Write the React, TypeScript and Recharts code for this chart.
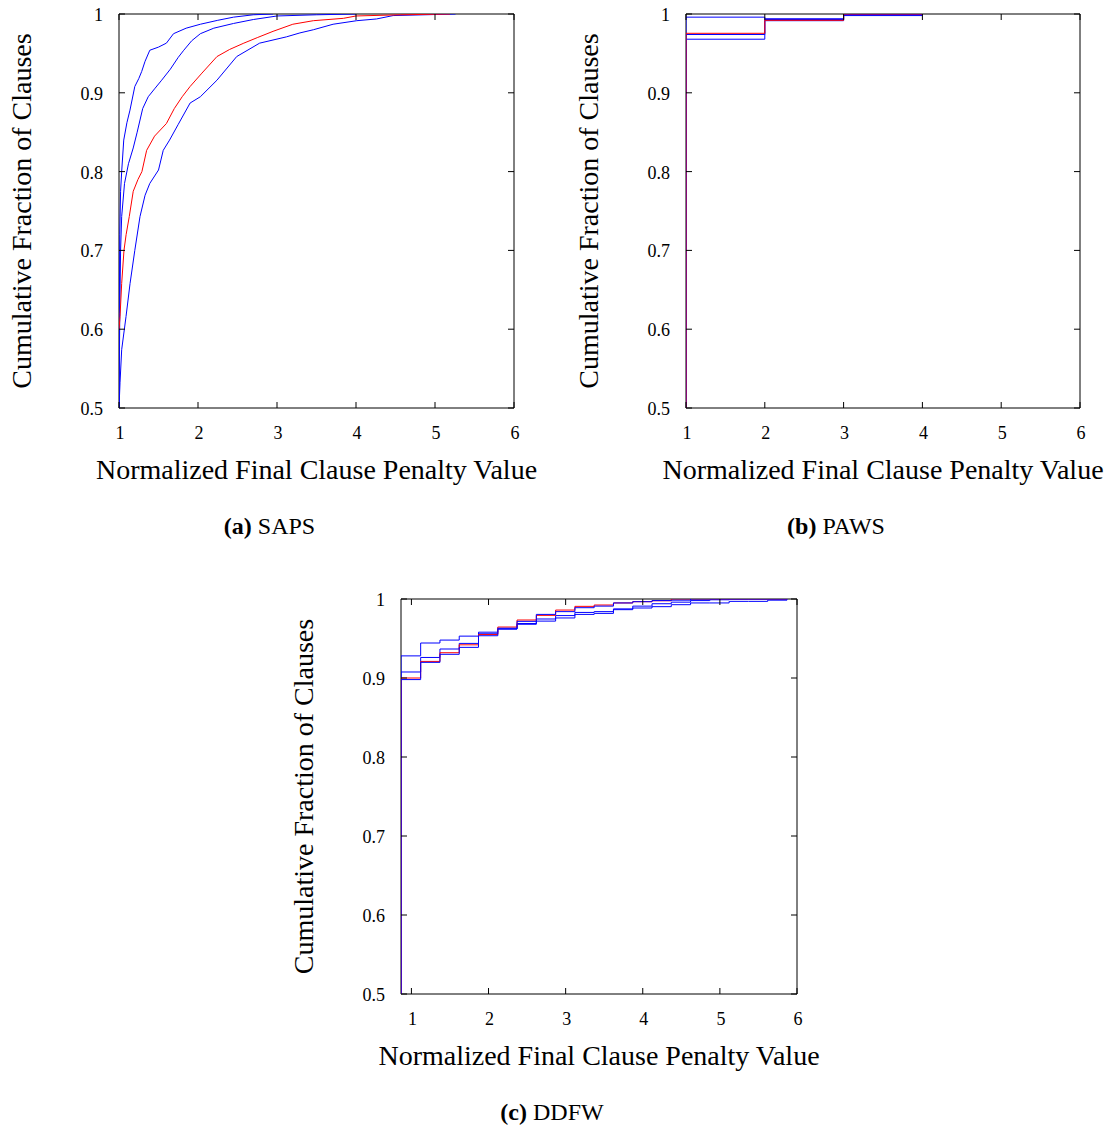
import React from 'react';
import { LineChart, Line, XAxis, YAxis, ReferenceArea } from 'recharts';

const FONT = '"Liberation Serif", "Times New Roman", serif';
const BLUE = '#0000ff';
const RED = '#ff0000';

const xTicks = [1, 2, 3, 4, 5, 6];
const yTicks = [0.5, 0.6, 0.7, 0.8, 0.9, 1];

// (a) SAPS - cumulative curves, [x, y]
const sapsBlue1 = [
  [1, 0.5], [1.004, 0.62], [1.01, 0.72], [1.02, 0.775], [1.034, 0.8], [1.06, 0.84],
  [1.1, 0.862], [1.139, 0.878], [1.2, 0.908], [1.25, 0.918], [1.287, 0.927], [1.33, 0.94],
  [1.39, 0.954], [1.5, 0.958], [1.6, 0.963], [1.69, 0.975], [1.85, 0.982], [2.03, 0.987],
  [2.25, 0.992], [2.45, 0.996], [2.7, 0.999], [2.95, 1],
];
const sapsBlue2 = [
  [1, 0.5], [1.01, 0.62], [1.02, 0.7], [1.034, 0.743], [1.07, 0.785], [1.12, 0.81],
  [1.18, 0.83], [1.23, 0.85], [1.3, 0.88], [1.37, 0.895], [1.45, 0.905], [1.54, 0.916],
  [1.65, 0.93], [1.75, 0.945], [1.82, 0.954], [1.92, 0.966], [2.03, 0.975], [2.2, 0.982],
  [2.45, 0.988], [2.7, 0.993], [3.0, 0.9975], [3.5, 0.999], [4.0, 1],
];
const sapsRed = [
  [1, 0.6], [1.013, 0.616], [1.034, 0.658], [1.063, 0.7], [1.09, 0.72], [1.13, 0.743],
  [1.18, 0.775], [1.24, 0.79], [1.29, 0.8], [1.35, 0.827], [1.45, 0.845], [1.6, 0.861],
  [1.7, 0.88], [1.8, 0.895], [1.9, 0.908], [2.05, 0.925], [2.24, 0.946], [2.4, 0.955],
  [2.58, 0.963], [2.75, 0.97], [2.95, 0.978], [3.2, 0.987], [3.46, 0.9915], [3.84, 0.9945],
  [4.0, 0.9975], [4.56, 0.999], [5.19, 1],
];
const sapsBlue3 = [
  [1, 0.5], [1.013, 0.532], [1.034, 0.574], [1.089, 0.616], [1.14, 0.658], [1.2, 0.7],
  [1.266, 0.743], [1.33, 0.77], [1.39, 0.785], [1.5, 0.802], [1.56, 0.827], [1.64, 0.84],
  [1.75, 0.86], [1.9, 0.887], [2.03, 0.895], [2.24, 0.916], [2.49, 0.946], [2.78, 0.963],
  [3.12, 0.971], [3.29, 0.976], [3.46, 0.98], [3.71, 0.987], [4.01, 0.9915], [4.26, 0.9937],
  [4.47, 0.998], [5.26, 1],
];

// (b) PAWS - step curves
const pawsX = [1, 1, 2, 3, 4];
const pawsBlue1 = [0.5, 0.996, 0.994, 0.9995, 0.9995];
const pawsBlue2 = [0.5, 0.974, 0.9915, 0.999, 0.999];
const pawsBlue3 = [0.5, 0.968, 0.993, 0.998, 0.998];
const pawsRed = [0.5, 0.9755, 0.992, 1, 1];

// (c) DDFW - step curves
const ddfwX = [
  0.865, 0.865, 1.12, 1.37, 1.62, 1.87, 2.12, 2.37, 2.62, 2.87, 3.12,
  3.37, 3.62, 3.87, 4.12, 4.37, 4.62, 4.87, 5.12, 5.37, 5.62, 5.87,
];
const ddfwBlueT = [
  0.5, 0.928, 0.9443, 0.948, 0.953, 0.958, 0.962, 0.968, 0.972, 0.976, 0.9805,
  0.9818, 0.9865, 0.9886, 0.9903, 0.9928, 0.995, 0.995, 0.997, 0.997, 0.9985, 1,
];
const ddfwBlueM = [
  0.5, 0.9076, 0.926, 0.9367, 0.9438, 0.956, 0.962, 0.969, 0.9747, 0.979, 0.983,
  0.984, 0.9875, 0.991, 0.994, 0.996, 0.998, 0.999, 1, 1, 1, 1,
];
const ddfwBlueB = [
  0.5, 0.898, 0.9198, 0.93, 0.9388, 0.9535, 0.963, 0.9717, 0.9805, 0.984, 0.989,
  0.991, 0.995, 0.9966, 0.998, 0.9985, 1, 1, 1, 1, 1, 1,
];
const ddfwRed = [
  0.5, 0.9, 0.921, 0.932, 0.942, 0.955, 0.9645, 0.9734, 0.9793, 0.986, 0.9907,
  0.9924, 0.995, 0.9966, 0.9978, 1, 1, 1, 1, 1, 1, 1,
];

const fromPairs = (p: number[][]) => p.map(([x, y]) => ({ x, y }));
const fromCols = (xs: number[], ys: number[]) => xs.map((x, i) => ({ x, y: ys[i] }));

type Series = { color: string; data: { x: number; y: number }[] };

const LEFT = 119; // plot offset inside each chart svg
const TOP = 14;

function Panel({ left, top, w, h, xMin, series, step, tag, name }: {
  left: number; top: number; w: number; h: number; xMin: number;
  series: Series[]; step: boolean; tag: string; name: string;
}) {
  const chartW = LEFT + w + 30;
  const chartH = TOP + h + 140;
  const bottom = TOP + h;
  const right = LEFT + w;
  const cx = LEFT + w / 2;

  const XTick = (p: any) => {
    const { x, payload } = p;
    return (
      <g>
        <line x1={x} x2={x} y1={bottom} y2={bottom - 6} stroke="#000" />
        <line x1={x} x2={x} y1={TOP} y2={TOP + 6} stroke="#000" />
        <text x={x + 1} y={bottom + 25} textAnchor="middle" dominantBaseline="central"
          fontFamily={FONT} fontSize={18} fill="#000">{payload.value}</text>
      </g>
    );
  };
  const YTick = (p: any) => {
    const { y, payload } = p;
    return (
      <g>
        <line x1={LEFT} x2={LEFT + 6} y1={y} y2={y} stroke="#000" />
        <line x1={right} x2={right - 6} y1={y} y2={y} stroke="#000" />
        <text x={LEFT - 16} y={y + 1} textAnchor="end" dominantBaseline="central"
          fontFamily={FONT} fontSize={18} fill="#000">{payload.value}</text>
      </g>
    );
  };

  return (
    <div style={{ position: 'absolute', left: left - LEFT, top: top - TOP }}>
      <LineChart width={chartW} height={chartH}
        margin={{ top: TOP, left: LEFT - 60, right: 30, bottom: 100 }}>
        <XAxis dataKey="x" type="number" domain={[xMin, 6]} ticks={xTicks} interval={0}
          allowDataOverflow axisLine={false} tickLine={false} tick={XTick} height={40} />
        <YAxis type="number" domain={[0.5, 1]} ticks={yTicks} interval={0}
          allowDataOverflow axisLine={false} tickLine={false} tick={YTick} width={60} />
        <ReferenceArea x1={xMin} x2={6} y1={0.5} y2={1} fill="none" stroke="#000"
          strokeWidth={1} fillOpacity={0} ifOverflow="visible" />
        {series.map((s, i) => (
          <Line key={i} data={s.data} dataKey="y" type={step ? 'stepAfter' : 'linear'}
            stroke={s.color} strokeWidth={1} dot={false} activeDot={false}
            isAnimationActive={false} />
        ))}
        <text x={cx} y={bottom + 61} textAnchor="middle" dominantBaseline="central"
          fontFamily={FONT} fontSize={28} fill="#000">Normalized Final Clause Penalty Value</text>
        <text x={LEFT - 98} y={TOP + h / 2} textAnchor="middle" dominantBaseline="central"
          transform={`rotate(-90, ${LEFT - 98}, ${TOP + h / 2})`}
          fontFamily={FONT} fontSize={28} fill="#000">Cumulative Fraction of Clauses</text>
        <text x={cx - 47} y={bottom + 118} textAnchor="middle" dominantBaseline="central"
          fontFamily={FONT} fontSize={24} fill="#000">
          <tspan fontWeight="bold">{tag}</tspan> {name}
        </text>
      </LineChart>
    </div>
  );
}

export default function App() {
  const saps: Series[] = [
    { color: BLUE, data: fromPairs(sapsBlue1) },
    { color: BLUE, data: fromPairs(sapsBlue2) },
    { color: BLUE, data: fromPairs(sapsBlue3) },
    { color: RED, data: fromPairs(sapsRed) },
  ];
  const paws: Series[] = [
    { color: BLUE, data: fromCols(pawsX, pawsBlue1) },
    { color: BLUE, data: fromCols(pawsX, pawsBlue2) },
    { color: BLUE, data: fromCols(pawsX, pawsBlue3) },
    { color: RED, data: fromCols(pawsX, pawsRed) },
  ];
  const ddfw: Series[] = [
    { color: BLUE, data: fromCols(ddfwX, ddfwBlueT) },
    { color: BLUE, data: fromCols(ddfwX, ddfwBlueM) },
    { color: RED, data: fromCols(ddfwX, ddfwRed) },
    { color: BLUE, data: fromCols(ddfwX, ddfwBlueB) },
  ];
  return (
    <div style={{ position: 'absolute', left: 0, top: 0, width: 1110, height: 1127, background: '#fff' }}>
      <Panel left={119} top={14} w={395} h={394} xMin={1} series={saps} step={false} tag="(a)" name="SAPS" />
      <Panel left={686} top={14} w={394} h={394} xMin={1} series={paws} step tag="(b)" name="PAWS" />
      <Panel left={401} top={599} w={396} h={395} xMin={0.865} series={ddfw} step tag="(c)" name="DDFW" />
    </div>
  );
}
